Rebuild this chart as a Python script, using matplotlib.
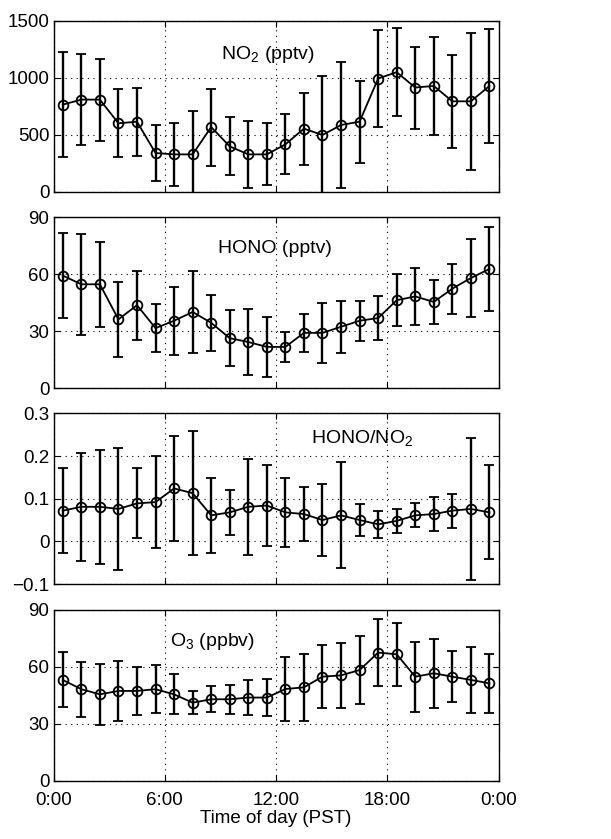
import numpy as np
import matplotlib
matplotlib.use('Agg')
from matplotlib import pyplot as plt

plt.rcParams['font.family'] = ['Liberation Sans', 'DejaVu Sans']
plt.rcParams['axes.unicode_minus'] = True
plt.rcParams['mathtext.fontset'] = 'custom'
plt.rcParams['mathtext.rm'] = 'Liberation Sans'

# hour of day (bin centres)
hours = np.arange(24) + 0.5

no2 = [763, 807, 807, 599, 613, 338, 326, 326, 566, 396, 326, 326,
       414, 552, 496, 584, 613, 992, 1048, 913, 927, 792, 792, 927]
no2_err = [464, 402, 361, 298, 300, 250, 279, 378, 338, 255, 294, 272,
           263, 316, 522, 549, 361, 427, 384, 360, 429, 407, 602, 504]

hono = [59.3, 54.7, 54.7, 36.2, 43.7, 31.6, 35.5, 40.1, 34.4, 26.3, 24.3, 21.7,
        21.7, 29.1, 29.1, 32.3, 35.5, 36.9, 46.3, 48.3, 45.4, 52.4, 58.0, 62.8]
hono_err = [22.4, 26.7, 22.3, 19.6, 18.2, 12.7, 17.8, 21.8, 14.6, 14.7, 17.2, 16.0,
            8.0, 10.0, 16.0, 13.6, 10.6, 11.5, 13.6, 15.1, 11.5, 13.2, 20.6, 22.0]

ratio = [0.072, 0.081, 0.081, 0.076, 0.089, 0.092, 0.124, 0.113, 0.061, 0.068, 0.081, 0.084,
         0.068, 0.064, 0.050, 0.061, 0.050, 0.040, 0.048, 0.061, 0.064, 0.072, 0.076, 0.068]
ratio_err = [0.099, 0.127, 0.133, 0.142, 0.082, 0.108, 0.123, 0.145, 0.087, 0.052, 0.113, 0.094,
             0.080, 0.064, 0.084, 0.124, 0.038, 0.032, 0.028, 0.028, 0.040, 0.040, 0.167, 0.110]

o3 = [53.0, 48.1, 45.4, 47.2, 47.2, 48.1, 45.4, 41.0, 42.8, 42.8, 43.7, 43.7,
      48.2, 49.1, 54.7, 55.4, 58.2, 67.4, 66.5, 54.7, 56.5, 54.7, 53.0, 51.2]
o3_err = [14.5, 14.5, 15.9, 15.9, 12.7, 12.7, 10.5, 6.0, 6.9, 7.7, 9.2, 9.6,
          16.8, 17.6, 16.7, 17.2, 18.0, 17.5, 16.6, 18.4, 18.1, 13.5, 17.6, 15.4]

xticks = [0, 6, 12, 18, 24]
xticklabels = ['0:00', '6:00', '12:00', '18:00', '0:00']

panels = [
    (no2, no2_err, [0, 1500], [0, 500, 1000, 1500], ['0', '500', '1000', '1500'],
     r'NO$_2$ (pptv)', 11.56, 1200),
    (hono, hono_err, [0, 90], [0, 30, 60, 90], ['0', '30', '60', '90'],
     'HONO (pptv)', 11.94, 73.5),
    (ratio, ratio_err, [-0.1, 0.3], [-0.1, 0, 0.1, 0.2, 0.3],
     ['\u22120.1', '0', '0.1', '0.2', '0.3'], r'HONO/NO$_2$', 16.66, 0.24),
    (o3, o3_err, [0, 90], [0, 30, 60, 90], ['0', '30', '60', '90'],
     r'O$_3$ (ppbv)', 8.58, 73.5),
]

fig = plt.figure(figsize=(6.11, 8.39), dpi=100)
W, H = 611.0, 839.0
left, right = 53.5, 498.7
tops = [20.7, 217.3, 413.3, 609.7]
ph = 170.8

for i, (y, e, ylim, yt, ytl, label, tx, ty) in enumerate(panels):
    ax = fig.add_axes([left / W, 1 - (tops[i] + ph) / H, (right - left) / W, ph / H])
    ax.errorbar(hours, y, yerr=e, color='k', marker='o', ms=7, mfc='none', mec='k',
                mew=1.3, lw=1.3, elinewidth=1.7, capsize=3.5, capthick=1.7)
    ax.set_xlim(0, 24)
    ax.set_ylim(ylim)
    ax.set_xticks(xticks)
    ax.set_yticks(yt)
    ax.set_yticklabels(ytl)
    ax.grid(True, color='k', linestyle=(0, (1, 4)), linewidth=0.8)
    ax.tick_params(direction='in', top=True, right=True, length=4, labelsize=13.5,
                   width=0.8, pad=3)
    if i == 3:
        ax.set_xticklabels(xticklabels)
        ax.tick_params(axis='x', pad=8)
        ax.set_xlabel('Time of day (PST)', fontsize=13.5, labelpad=1)
    else:
        ax.set_xticklabels([])
    for s in ax.spines.values():
        s.set_linewidth(1.0)
    ax.text(tx, ty, label, fontsize=14, ha='center', va='center')

plt.savefig('out.png', dpi=100)
